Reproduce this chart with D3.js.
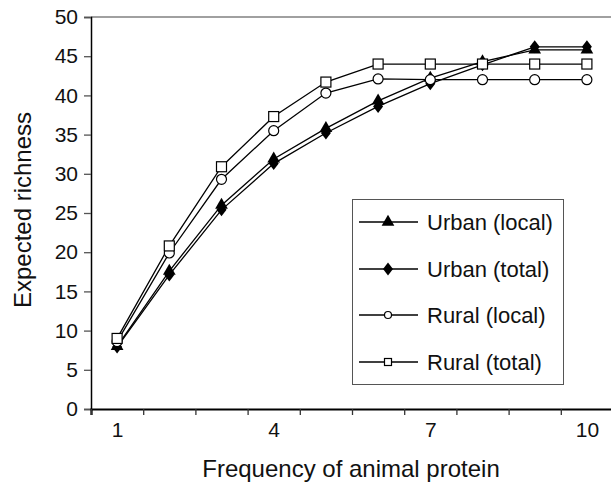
<!DOCTYPE html>
<html>
<head>
<meta charset="utf-8">
<script src="https://cdn.jsdelivr.net/npm/d3@7"></script>
<style>
html,body{margin:0;padding:0;background:#fff;}
svg{display:block;font-family:"Liberation Sans",Arial,Helvetica,sans-serif;}
</style>
</head>
<body>
<svg id="chart" width="611" height="482"></svg>
<script>
// ---- data ----
const categories = [1,2,3,4,5,6,7,8,9,10];
const xTickLabels = [1,4,7,10];
const yTickValues = [0,5,10,15,20,25,30,35,40,45,50];
const urbanLocal = [8.0,17.6,26.0,31.9,35.8,39.3,42.2,44.3,45.8,45.8];
const urbanTotal = [7.9,17.1,25.4,31.3,35.2,38.6,41.5,43.9,46.2,46.2];
const ruralLocal = [8.6,19.9,29.3,35.5,40.3,42.1,42.0,42.0,42.0,42.0];
const ruralTotal = [9.0,20.8,30.9,37.3,41.7,44.0,44.0,44.0,44.0,44.0];
const seriesNames = ["Urban (local)","Urban (total)","Rural (local)","Rural (total)"];

const series = [
  {name: seriesNames[0], values: urbanLocal, marker: "triangle"},
  {name: seriesNames[1], values: urbanTotal, marker: "diamond"},
  {name: seriesNames[2], values: ruralLocal, marker: "circle"},
  {name: seriesNames[3], values: ruralTotal, marker: "square"}
];

const svg = d3.select("#chart");
const mLeft = 91, mRight = 613, mTop = 17, mBottom = 409;

const x = d3.scaleLinear().domain([0.5, 10.5]).range([mLeft, mRight]);
const y = d3.scaleLinear().domain([0, 50]).range([mBottom, mTop]);

// top border
svg.append("line").attr("x1", mLeft).attr("x2", 611).attr("y1", mTop).attr("y2", mTop)
  .attr("stroke", "#808080").attr("stroke-width", 1.5);

// y axis
const yAxis = svg.append("g").attr("transform", `translate(${mLeft},0)`)
  .call(d3.axisLeft(y).tickValues(yTickValues).tickSize(7).tickPadding(6).tickFormat(d3.format("d")));
yAxis.select(".domain").attr("stroke", "#000").attr("stroke-width", 1.5);
yAxis.selectAll(".tick line").attr("stroke", "#555").attr("stroke-width", 1.3);
yAxis.selectAll(".tick text").attr("font-size", 21).attr("fill", "#111")
  .attr("font-family", "Liberation Sans, Arial, sans-serif");

// x axis: ticks between categories
const xBoundaries = categories.map(c => c - 0.5);
const xAxis = svg.append("g").attr("transform", `translate(0,${mBottom})`)
  .call(d3.axisBottom(x).tickValues(xBoundaries).tickSize(6).tickFormat(""));
xAxis.select(".domain").attr("stroke", "#000").attr("stroke-width", 2.2);
xAxis.selectAll(".tick line").attr("stroke", "#333").attr("stroke-width", 1.3);

const xLabels = svg.append("g").attr("transform", `translate(0,${mBottom})`)
  .call(d3.axisBottom(x).tickValues(xTickLabels).tickSize(0).tickPadding(13).tickFormat(d3.format("d")));
xLabels.select(".domain").remove();
xLabels.selectAll(".tick text").attr("font-size", 21).attr("fill", "#111")
  .attr("font-family", "Liberation Sans, Arial, sans-serif");

// axis titles
svg.append("text").attr("x", 351).attr("y", 477).attr("text-anchor", "middle")
  .attr("font-size", 24).attr("fill", "#111").text("Frequency of animal protein");
svg.append("text").attr("transform", "translate(31,210) rotate(-90)").attr("text-anchor", "middle")
  .attr("font-size", 24).attr("fill", "#111").text("Expected richness");

// markers
function drawMarker(g, type, cx, cy) {
  if (type === "triangle") {
    g.append("path").attr("d", d3.symbol(d3.symbolTriangle, 70)()).attr("transform", `translate(${cx},${cy})`)
      .attr("fill", "#000");
  } else if (type === "diamond") {
    g.append("path").attr("d", `M0,-6.5L5,0L0,6.5L-5,0Z`).attr("transform", `translate(${cx},${cy})`)
      .attr("fill", "#000");
  } else if (type === "circle") {
    g.append("circle").attr("cx", cx).attr("cy", cy).attr("r", 5)
      .attr("fill", "#fff").attr("stroke", "#000").attr("stroke-width", 1.2);
  } else {
    g.append("rect").attr("x", cx - 5).attr("y", cy - 5).attr("width", 10).attr("height", 10)
      .attr("fill", "#fff").attr("stroke", "#000").attr("stroke-width", 1.2);
  }
}

const line = d3.line().x((d, i) => x(categories[i])).y(d => y(d));
const plot = svg.append("g");
series.forEach(s => {
  plot.append("path").datum(s.values).attr("d", line)
    .attr("fill", "none").attr("stroke", "#000").attr("stroke-width", 1.3);
});
series.forEach(s => {
  const g = plot.append("g");
  s.values.forEach((v, i) => drawMarker(g, s.marker, x(categories[i]), y(v)));
});

// legend
const lg = svg.append("g");
lg.append("rect").attr("x", 352.5).attr("y", 199.5).attr("width", 211).attr("height", 185)
  .attr("fill", "#fff").attr("stroke", "#555").attr("stroke-width", 1);
const rowY = [222, 269, 315, 362];
series.forEach((s, i) => {
  const yy = rowY[i];
  lg.append("line").attr("x1", 359).attr("x2", 418).attr("y1", yy).attr("y2", yy)
    .attr("stroke", "#000").attr("stroke-width", 1.3);
  if (s.marker === "circle") {
    lg.append("circle").attr("cx", 388).attr("cy", yy).attr("r", 3.5)
      .attr("fill", "#fff").attr("stroke", "#000").attr("stroke-width", 1.2);
  } else if (s.marker === "square") {
    lg.append("rect").attr("x", 384.5).attr("y", yy - 3.5).attr("width", 7).attr("height", 7)
      .attr("fill", "#fff").attr("stroke", "#000").attr("stroke-width", 1.2);
  } else {
    drawMarker(lg, s.marker, 388, yy);
  }
  lg.append("text").attr("x", 427).attr("y", yy + 8).attr("font-size", 22).attr("fill", "#111")
    .text(s.name);
});
</script>
</body>
</html>
